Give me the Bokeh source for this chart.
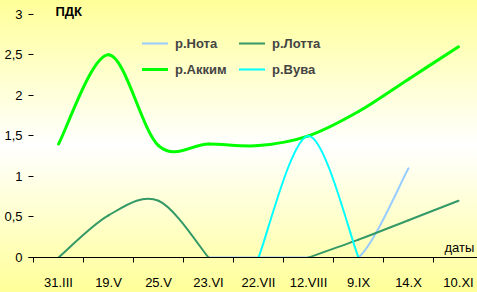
from bokeh.plotting import figure
from bokeh.models import FixedTicker, Legend, LegendItem, Label, Range1d, ColumnDataSource
from bokeh.embed import file_html
from bokeh.resources import INLINE

# ---- data ----
dates = ["31.III", "19.V", "25.V", "23.VI", "22.VII", "12.VIII", "9.IX", "14.X", "10.XI"]
nota = [None, None, None, 0, 0, 0, 0, 1.1, None]
lotta = [0, 0.52, 0.7, 0, None, 0, 0.22, 0.46, 0.7]
akkim = [1.4, 2.5, 1.38, 1.4, 1.38, 1.5, 1.8, 2.2, 2.6]
vuva = [None, None, None, None, 0, 1.5, 0, None, None]
y_ticks = [0, 0.5, 1, 1.5, 2, 2.5, 3]
y_tick_labels = ["0", "0,5", "1", "1,5", "2", "2,5", "3"]

series = [
    ("р.Нота", nota, "#99CCFF", 2),
    ("р.Лотта", lotta, "#339966", 2),
    ("р.Акким", akkim, "#00FF00", 3),
    ("р.Вува", vuva, "#00FFFF", 2),
]

FONT = "Liberation Sans"


def smooth_source(values):
    """Bezier segments through the data points (Excel-like smoothed line)."""
    xs = list(range(len(values)))
    runs, cur = [], []
    for x, v in zip(xs, values):
        if v is None:
            if cur:
                runs.append(cur)
            cur = []
        else:
            cur.append((x, v))
    if cur:
        runs.append(cur)
    d = {k: [] for k in ("x0", "y0", "x1", "y1", "cx0", "cy0", "cx1", "cy1")}
    for pts in runs:
        n = len(pts)
        for i in range(n - 1):
            p0, p1 = pts[i], pts[i + 1]
            pm = pts[i - 1] if i > 0 else p0
            pn = pts[i + 2] if i + 2 < n else p1
            d["x0"].append(p0[0]); d["y0"].append(p0[1])
            d["x1"].append(p1[0]); d["y1"].append(p1[1])
            d["cx0"].append(p0[0] + (p1[0] - pm[0]) / 6)
            d["cy0"].append(p0[1] + (p1[1] - pm[1]) / 6)
            d["cx1"].append(p1[0] - (pn[0] - p0[0]) / 6)
            d["cy1"].append(p1[1] - (pn[1] - p0[1]) / 6)
    return ColumnDataSource(d)


p = figure(width=477, height=292,
           x_range=Range1d(-0.6, 8.38), y_range=Range1d(0, 3.17),
           output_backend="svg", toolbar_location=None,
           min_border_left=28, min_border_right=0, min_border_top=0, min_border_bottom=30)
p.background_fill_alpha = 0
p.border_fill_alpha = 0
p.outline_line_color = None
p.grid.visible = False
p.styles = {"background": "linear-gradient(to bottom, #FFFF99 0%, #FFFFFF 50%, #FFFF99 100%)"}

items = {}
for name, vals, color, w in series:
    r = p.bezier(x0="x0", y0="y0", x1="x1", y1="y1", cx0="cx0", cy0="cy0",
                 cx1="cx1", cy1="cy1", source=smooth_source(vals),
                 line_color=color, line_width=w, line_cap="round")
    items[name] = LegendItem(label=name, renderers=[r])

# x axis
xa = p.xaxis[0]
xa.ticker = FixedTicker(ticks=list(range(len(dates))),
                        minor_ticks=[i - 0.5 for i in range(len(dates) + 1)])
xa.major_label_overrides = {i: d for i, d in enumerate(dates)}
xa.major_tick_out = 0
xa.major_tick_in = 0
xa.minor_tick_out = 5
xa.minor_tick_in = 0
xa.minor_tick_line_color = "black"
xa.axis_line_color = "black"
xa.major_label_standoff = 12
xa.major_label_text_font = FONT
xa.major_label_text_font_size = "13px"
xa.major_label_text_color = "black"

# y axis
ya = p.yaxis[0]
ya.ticker = FixedTicker(ticks=y_ticks, minor_ticks=[])
ya.major_label_overrides = {t: l for t, l in zip(y_ticks, y_tick_labels)}
ya.axis_line_color = None
ya.major_tick_out = 0
ya.major_tick_in = 5
ya.major_tick_line_color = "black"
ya.minor_tick_line_color = None
ya.major_label_standoff = 6
ya.major_label_text_font = FONT
ya.major_label_text_font_size = "13px"
ya.major_label_text_color = "black"

# axis titles
p.add_layout(Label(x=-0.06, y=3.13, text="ПДК", text_font=FONT, text_font_size="13px",
                   text_font_style="bold", text_baseline="top", text_color="black"))
p.add_layout(Label(x=7.72, y=0.127, text="даты", text_font=FONT, text_font_size="13px",
                   text_baseline="alphabetic", text_color="black"))

# legend filled column by column: col1 = Нота, Акким ; col2 = Лотта, Вува
order = ["р.Нота", "р.Акким", "р.Лотта", "р.Вува"]
legend = Legend(items=[items[k] for k in order], ncols=2, location=(114, 178),
                padding=0, margin=0, spacing=6,
                glyph_width=26, glyph_height=20, label_height=20, label_width=58,
                label_standoff=7, border_line_alpha=0, background_fill_alpha=0,
                label_text_font=FONT, label_text_font_size="13px",
                label_text_font_style="bold")
p.add_layout(legend)

open("out.html", "w").write(file_html(p, INLINE))
